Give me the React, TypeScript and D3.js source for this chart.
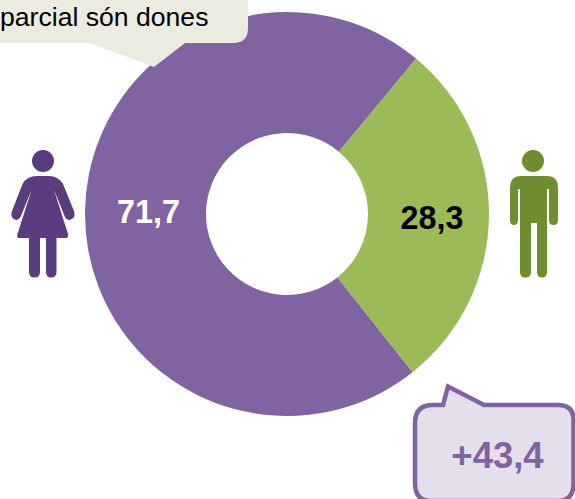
import React from "react";
import * as d3 from "d3";

const categories = ["Homes", "Dones"];
const shares = [28.3, 71.7];
const shareLabels = ["28,3", "71,7"];
const sliceColors = ["#9bbb59", "#8064a2"];
const labelColors = ["#000000", "#ffffff"];
const calloutText = "parcial són dones";
const gapText = "+43,4";

const FONT = "'Liberation Sans', Arial, sans-serif";
const WOMAN = "#5a3c7f";
const MAN = "#6f8e2f";

const womanPath =
  "M37 176 L49 176 Q58 176 63 184 L74 211 Q76 217 71 219.5 Q67 221 65 217 L54 190 L68 234 Q69 238 65 238 L56.5 238 L56.5 272 Q56.5 277.5 51 277.5 Q46 277.5 46 272 L46 238 L40 238 L40 272 Q40 277.5 34.5 277.5 Q29 277.5 29 272 L29 238 L20 238 Q16 238 17.5 234 L31.5 190 L20.5 217 Q18.5 221 14.5 219.5 Q10 217 12 211 L22.5 184 Q27 176 37 176 Z";
const manPath =
  "M521 176 L547 176 Q558 176 558 188 L558 220 Q558 225 553.5 225 Q549 225 549 220 L549 189 L547 189 L547 272 Q547 277.5 542 277.5 Q537 277.5 537 272 L537 223 L531 223 L531 272 Q531 277.5 525.5 277.5 Q520 277.5 520 272 L520 189 L518 189 L518 220 Q518 225 514 225 Q510 225 510 220 L510 188 Q510 176 521 176 Z";

export default function App() {
  const cx = 287;
  const cy = 214;
  const pie = d3
    .pie<number>()
    .sort(null)
    .startAngle((39.7 * Math.PI) / 180)
    .endAngle((399.7 * Math.PI) / 180);
  const arc = d3.arc<d3.PieArcDatum<number>>().innerRadius(81).outerRadius(202);
  const arcs = pie(shares);

  return (
    <svg
      width={575}
      height={499}
      viewBox="0 0 575 499"
      style={{ position: "absolute", left: 0, top: 0, display: "block" }}
      fontFamily={FONT}
    >
      <g transform={`translate(${cx},${cy})`}>
        {arcs.map((a, i) => (
          <path key={categories[i]} d={arc(a) ?? ""} fill={sliceColors[i]} />
        ))}
        {arcs.map((a, i) => {
          const [x, y] = arc.centroid(a);
          return (
            <text
              key={categories[i]}
              x={x + (i === 0 ? 3.5 : 3)}
              y={y + (i === 0 ? 13 : 11)}
              textAnchor="middle"
              fontSize={32.3}
              fontWeight="bold"
              fill={labelColors[i]}
            >
              {shareLabels[i]}
            </text>
          );
        })}
      </g>

      <path
        d="M-10 -10 L248 -10 L248 28 Q248 43 233 43 L185 43 L154 67 L90 43 L-10 43 Z"
        fill="#ecebe0"
      />
      <text x={0} y={26} fontSize={26.6} fill="#000">
        {calloutText}
      </text>

      <circle cx={43} cy={161} r={11} fill={WOMAN} />
      <path d={womanPath} fill={WOMAN} />
      <circle cx={533} cy={161} r={11} fill={MAN} />
      <path d={manPath} fill={MAN} />

      <path
        d="M433 405 L443 405 L448 386.5 L484 405 L558 405 Q573.5 405 573.5 420 L573.5 483 Q573.5 501 558 501 L431 501 Q415 501 415 483 L415 423 Q415 405 433 405 Z"
        fill="#e5dfec"
        stroke="#8064a2"
        strokeWidth={4.5}
        strokeLinejoin="miter"
      />
      <text x={497.5} y={468} textAnchor="middle" fontSize={36.5} fontWeight="bold" fill="#8064a2">
        {gapText}
      </text>
    </svg>
  );
}
